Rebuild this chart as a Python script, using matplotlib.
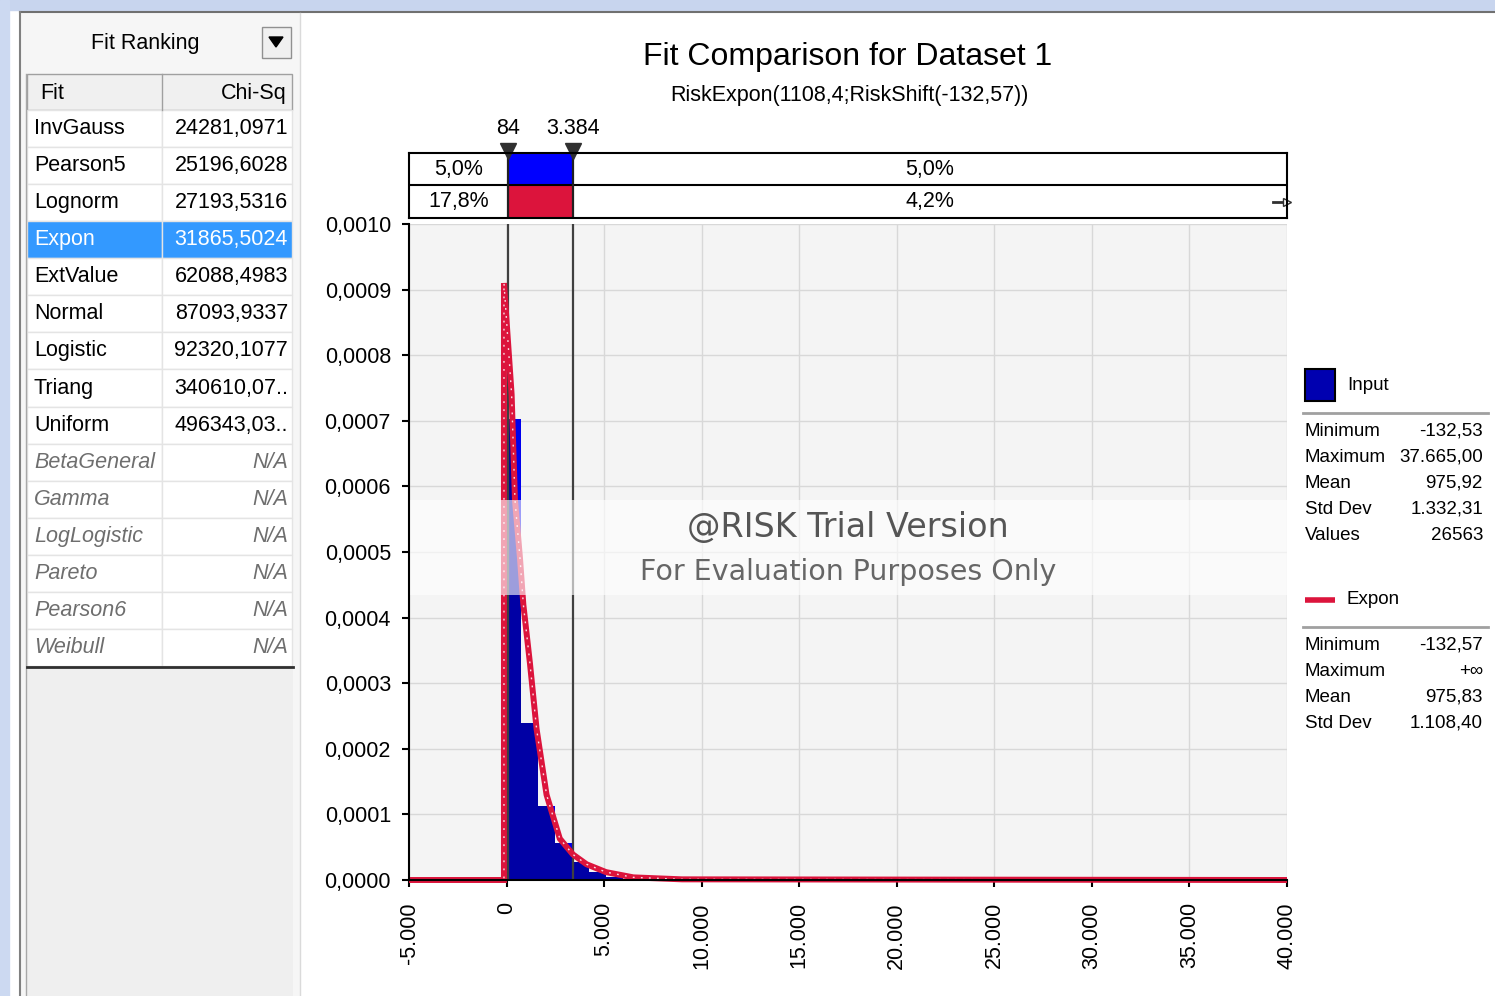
import matplotlib
matplotlib.use('Agg')
import matplotlib.pyplot as plt
import matplotlib.patches as mpatches
from matplotlib.path import Path

plt.rcParams['font.family'] = ['Liberation Sans', 'DejaVu Sans']

W, H = 1495, 996

# ranking table
fit_names = ['InvGauss', 'Pearson5', 'Lognorm', 'Expon', 'ExtValue', 'Normal',
             'Logistic', 'Triang', 'Uniform', 'BetaGeneral', 'Gamma',
             'LogLogistic', 'Pareto', 'Pearson6', 'Weibull']
chi_sq = ['24281,0971', '25196,6028', '27193,5316', '31865,5024', '62088,4983',
          '87093,9337', '92320,1077', '340610,07..', '496343,03..',
          'N/A', 'N/A', 'N/A', 'N/A', 'N/A', 'N/A']
selected_fit = 'Expon'

# input histogram (density)
bin_left = [-132.5, 737.5, 1607.5, 2477.5, 3347.5, 4217.5, 5087.5, 5957.5]
bin_width = 870
bar_height = [0.000702, 0.000240, 0.000113, 0.000056, 0.000028, 0.000012,
              0.000005, 0.000002]

# fitted Expon density
curve_x = [-5000, -132.6, -132.6, 260, 430, 690, 860, 1200, 1540, 2050, 2730,
           3400, 4100, 5100, 6500, 9000, 40000]
curve_y = [0, 0, 0.00091, 0.00074, 0.00058, 0.00049, 0.00042, 0.00033,
           0.00023, 0.00013, 0.000063, 0.000039, 0.000024, 0.000012,
           0.000004, 0.000001, 0]

# delimiters
delim_x = [84, 3384]
delim_labels = ['84', '3.384']
input_pct = ['5,0%', '5,0%']
expon_pct = ['17,8%', '4,2%']

x_ticks = [-5000, 0, 5000, 10000, 15000, 20000, 25000, 30000, 35000, 40000]
x_labels = ['-5.000', '0', '5.000', '10.000', '15.000', '20.000', '25.000',
            '30.000', '35.000', '40.000']
y_ticks = [i * 0.0001 for i in range(11)]
y_labels = ['0,%04d' % i for i in range(11)]

input_stats = [('Minimum', '-132,53'), ('Maximum', '37.665,00'),
               ('Mean', '975,92'), ('Std Dev', '1.332,31'), ('Values', '26563')]
expon_stats = [('Minimum', '-132,57'), ('Maximum', '+\u221e'),
               ('Mean', '975,83'), ('Std Dev', '1.108,40')]

BLUE = '#0000EE'
RED = '#DC143C'


def fax(x0, y0, x1, y1):
    return [x0 / W, 1 - y1 / H, (x1 - x0) / W, (y1 - y0) / H]


fig = plt.figure(figsize=(W / 100, H / 100), dpi=100)

# background / window chrome, in pixel coordinates
bg = fig.add_axes([0, 0, 1, 1], zorder=0)
bg.set_xlim(0, W)
bg.set_ylim(H, 0)
bg.axis('off')
bg.add_patch(mpatches.Rectangle((0, 0), W, 10, color='#C8D5EE'))
bg.add_patch(mpatches.Rectangle((0, 0), 9, H, color='#CCD9F1'))
bg.plot([20, W], [12, 12], color='#707070', lw=1.5)
bg.add_patch(mpatches.Rectangle((20, 13), 280, H - 13, fc='#F6F6F6', ec='none'))
bg.plot([19.5, 19.5], [12, H], color='#808080', lw=1.5)
bg.plot([26, 26], [74, H], color='#A8A8A8', lw=1)
bg.plot([300, 300], [13, H], color='#DADADA', lw=1)

# Fit Ranking header and drop-down
bg.text(145, 43, 'Fit Ranking', fontsize=15.5, ha='center', va='center')
bg.add_patch(mpatches.Rectangle((262, 27), 29, 31, fc='#F0F0F0', ec='#909090', lw=1))
bg.add_patch(mpatches.Polygon([(269, 37), (283, 37), (276, 47)], color='black'))

# table
row_h = 37.07
tab_top = 110
bg.add_patch(mpatches.Rectangle((27, 74), 265, 36, fc='#F0F0F0', ec='#A0A0A0', lw=1))
bg.plot([162, 162], [74, 110], color='#A0A0A0', lw=1)
bg.text(40, 93, 'Fit', fontsize=15.5, ha='left', va='center')
bg.text(287, 93, 'Chi-Sq', fontsize=15.5, ha='right', va='center')
for i, (name, val) in enumerate(zip(fit_names, chi_sq)):
    y0 = tab_top + i * row_h
    sel = name == selected_fit
    for cx0, cx1 in [(27, 162), (162, 292)]:
        bg.add_patch(mpatches.Rectangle((cx0, y0), cx1 - cx0, row_h,
                                        fc='#3399FF' if sel else 'white',
                                        ec='#E4E4E4', lw=1))
    if val == 'N/A':
        col, style = '#6E6E6E', 'italic'
    else:
        col, style = ('white' if sel else 'black'), 'normal'
    bg.text(34, y0 + row_h / 2, name, fontsize=15.5, color=col, style=style,
            ha='left', va='center')
    bg.text(288, y0 + row_h / 2, val, fontsize=15.5, color=col, style=style,
            ha='right', va='center')
tab_bot = tab_top + len(fit_names) * row_h
bg.add_patch(mpatches.Rectangle((27, tab_bot + 1), 266, H - tab_bot, fc='#EFEFEF', ec='none'))
bg.plot([27, 293], [tab_bot + 1, tab_bot + 1], color='#303030', lw=2)

# titles
bg.text(848, 57, 'Fit Comparison for Dataset 1', fontsize=23, ha='center', va='center')
bg.text(849, 95, 'RiskExpon(1108,4;RiskShift(-132,57))', fontsize=15.5,
        ha='center', va='center')

# right-hand legend
bg.add_patch(mpatches.Rectangle((1305, 369), 30, 32, fc='#0000B0', ec='black', lw=1.5))
bg.text(1347, 385, 'Input', fontsize=13.5, ha='left', va='center')
bg.plot([1303, 1488], [413, 413], color='#A0A0A0', lw=2)
for i, (k, v) in enumerate(input_stats):
    bg.text(1305, 431 + 26 * i, k, fontsize=13.5, ha='left', va='center')
    bg.text(1483, 431 + 26 * i, v, fontsize=13.5, ha='right', va='center')
bg.plot([1305, 1335], [600, 600], color=RED, lw=4, solid_capstyle='butt')
bg.text(1347, 599, 'Expon', fontsize=13.5, ha='left', va='center')
bg.plot([1303, 1488], [627, 627], color='#A0A0A0', lw=2)
for i, (k, v) in enumerate(expon_stats):
    bg.text(1305, 645 + 26 * i, k, fontsize=13.5, ha='left', va='center')
    bg.text(1483, 645 + 26 * i, v, fontsize=13.5, ha='right', va='center')

# main chart
ax = fig.add_axes(fax(409, 224, 1287, 880), zorder=1)
ax.set_facecolor('#F4F4F4')
ax.set_xlim(-5000, 40000)
ax.set_ylim(0, 0.001)
ax.set_axisbelow(True)
ax.grid(True, color='#D8D8D8', lw=1)
for s in ['top', 'right']:
    ax.spines[s].set_visible(False)
for s in ['left', 'bottom']:
    ax.spines[s].set_linewidth(1.5)
    ax.spines[s].set_zorder(10)
ax.set_xticks(x_ticks)
ax.set_xticklabels(x_labels, rotation=90, va='top', ha='center', fontsize=15.5)
ax.set_yticks(y_ticks)
ax.set_yticklabels(y_labels, fontsize=15.5)
ax.tick_params(axis='both', direction='out', length=5, width=1.5)
ax.tick_params(axis='x', pad=11)
ax.tick_params(axis='y', pad=8)

bars = ax.bar(bin_left, bar_height, width=bin_width, align='edge', color=BLUE,
              lw=0, zorder=2)
verts, codes = [], []
for r in bars:
    x0, y0, w, h = r.get_x(), r.get_y(), r.get_width(), r.get_height()
    verts += [(x0, y0), (x0 + w, y0), (x0 + w, y0 + h), (x0, y0 + h), (x0, y0)]
    codes += [Path.MOVETO, Path.LINETO, Path.LINETO, Path.LINETO, Path.CLOSEPOLY]
clip = mpatches.PathPatch(Path(verts, codes), transform=ax.transData)
shade = ax.fill_between(curve_x, curve_y, color='#000040', alpha=0.42, lw=0, zorder=3)
shade.set_clip_path(clip)

for dx in delim_x:
    ax.axvline(dx, color='#404040', lw=1.6, zorder=4)

ax.plot(curve_x, curve_y, color=RED, lw=4.3, zorder=6, solid_joinstyle='miter',
        solid_capstyle='butt', clip_on=False)
ax.plot(curve_x, curve_y, color='white', lw=1.0, dashes=(1.3, 4.5), zorder=7,
        alpha=0.85, clip_on=False)

# watermark
ax.axhspan(0.000434, 0.000579, color='white', alpha=0.62, lw=0, zorder=8)
ax.text(0.5, 0.000538, '@RISK Trial Version', transform=ax.get_yaxis_transform(),
        fontsize=24, color='#555555', ha='center', va='center', zorder=9,
        family='DejaVu Sans')
ax.text(0.5, 0.000470, 'For Evaluation Purposes Only', transform=ax.get_yaxis_transform(),
        fontsize=20.5, color='#666666', ha='center', va='center', zorder=9,
        family='DejaVu Sans')

# delimiter bar above the chart
dax = fig.add_axes(fax(409, 153, 1287, 218), zorder=2)
dax.set_xlim(ax.get_xlim())
dax.set_ylim(0, 2)
dax.set_xticks([])
dax.set_yticks([])
for s in dax.spines.values():
    s.set_linewidth(1.5)
dax.axvspan(delim_x[0], delim_x[1], ymin=0.5, ymax=1, color='#0000FF', lw=0)
dax.axvspan(delim_x[0], delim_x[1], ymin=0, ymax=0.5, color=RED, lw=0)
dax.axhline(1, color='black', lw=1.5)
for dx in delim_x:
    dax.axvline(dx, color='#202020', lw=1.6)
xl, xr = ax.get_xlim()
left_mid = (xl + delim_x[0]) / 2
right_mid = (delim_x[1] + xr) / 2
dax.text(left_mid, 1.5, input_pct[0], fontsize=15.5, ha='center', va='center')
dax.text(right_mid, 1.5, input_pct[1], fontsize=15.5, ha='center', va='center')
dax.text(left_mid, 0.5, expon_pct[0], fontsize=15.5, ha='center', va='center')
dax.text(right_mid, 0.5, expon_pct[1], fontsize=15.5, ha='center', va='center')
dax.plot(delim_x, [2.05, 2.05], 'v', color='#303030', ms=11, clip_on=False)
for dx, lab in zip(delim_x, delim_labels):
    dax.text(dx, 2.75, lab, fontsize=15.5, ha='center', va='center', clip_on=False)
dax.plot([xr - 700, xr], [0.5, 0.5], color='#303030', lw=2, clip_on=False)
dax.plot([xr], [0.5], '>', color='white', mec='#303030', ms=6, clip_on=False)

fig.savefig('out.png', dpi=100)
